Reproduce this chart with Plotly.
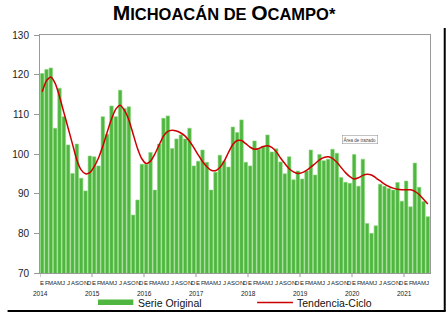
import plotly.graph_objects as go

years = ["2014", "2015", "2016", "2017", "2018", "2019", "2020", "2021"]
month_letters = ["E", "F", "M", "A", "M", "J", "J", "A", "S", "O", "N", "D"]

serie_original = [
    120.3, 121.3, 121.7, 106.5, 116.6, 109.4, 102.3, 95.1, 102.5, 93.9, 90.7, 99.5,   # 2014
    99.3, 97.0, 109.4, 105.0, 112.1, 109.4, 116.1, 111.5, 111.9, 84.6, 88.4, 97.4,    # 2015
    97.4, 100.4, 90.9, 102.5, 109.0, 109.6, 101.4, 103.8, 104.8, 103.8, 106.5, 97.0,  # 2016
    98.2, 101.0, 97.9, 90.9, 95.4, 99.7, 98.2, 96.7, 106.8, 105.4, 108.6, 97.9,       # 2017
    97.0, 103.3, 101.2, 101.9, 104.8, 100.5, 101.3, 98.0, 95.0, 99.3, 93.5, 95.7,     # 2018
    93.7, 95.7, 101.0, 94.7, 99.9, 98.3, 98.7, 101.2, 100.2, 94.1, 92.9, 92.6,        # 2019
    99.9, 91.9, 98.7, 82.5, 80.0, 81.9, 92.4, 91.9, 91.3, 90.9, 92.8, 88.1,           # 2020
    93.2, 86.7, 97.7, 91.6, 88.0, 84.2,                                               # 2021
]

tendencia_ciclo = [
    115.7, 118.5, 119.4, 117.8, 114.5, 110.5, 106.5, 102.5, 98.5, 96.0, 95.0, 95.3,
    96.8, 99.0, 102.0, 105.5, 108.8, 111.3, 112.3, 111.0, 108.6, 105.0, 101.4, 98.8,
    97.6, 98.2, 100.0, 102.3, 104.5, 105.7, 106.0, 105.8, 105.3, 104.5, 103.2, 101.6,
    99.8, 98.1, 96.8, 95.9, 95.8, 96.6, 98.2, 100.4, 102.4, 103.4, 103.4, 102.6,
    101.7, 101.2, 101.4, 101.9, 102.1, 101.7, 100.6, 99.0, 97.6, 96.3, 95.5, 95.1,
    95.3, 95.9, 96.7, 97.6, 98.5, 99.1, 99.3, 98.9, 97.9, 96.6, 95.3, 94.3,
    93.7, 94.0, 94.6, 94.9, 94.7, 94.0, 93.2, 92.4, 91.8, 91.4, 91.1, 91.0,
    91.0, 91.0, 90.6, 89.8, 88.6, 87.4,
]

y_ticks = [70, 80, 90, 100, 110, 120, 130]

n = len(serie_original)
idx = list(range(n))
year_pos = [12 * k - 0.5 for k in range(len(years))]

FONT = "Arial, Liberation Sans, sans-serif"

L, R, T, B = 33, 18, 35, 40
W, H = 448, 313
pw, ph = W - L - R, H - T - B


def px(x):
    return (x - L) / pw


def py(y):
    return (H - B - y) / ph


fig = go.Figure()
fig.add_trace(go.Bar(
    x=idx, y=serie_original, width=0.8,
    marker=dict(color="#4fb640", line=dict(color="#8ad67b", width=0.6)),
    name="Serie Original", showlegend=False,
))
fig.add_trace(go.Scatter(
    x=idx, y=tendencia_ciclo, mode="lines",
    line=dict(color="#cc0000", width=1.5, shape="spline", smoothing=0.6),
    name="Tendencia-Ciclo", showlegend=False,
))

annotations = []
# month letters under each bar
for i in idx:
    annotations.append(dict(x=i, y=py(282.5), xref="x", yref="paper", text=month_letters[i % 12],
                            showarrow=False, yanchor="middle", xanchor="center",
                            font=dict(family=FONT, size=6, color="#222")))
# years
for yr, xp in zip(years, year_pos):
    annotations.append(dict(x=xp, y=py(293.5), xref="x", yref="paper", text=yr,
                            showarrow=False, yanchor="middle",
                            font=dict(family=FONT, size=6.5, color="#222")))
# custom legend text
annotations.append(dict(x=px(131), y=py(302.5), xref="paper", yref="paper", text="Serie Original",
                        showarrow=False, xanchor="left", yanchor="middle",
                        font=dict(family=FONT, size=10.5, color="#111")))
annotations.append(dict(x=px(293), y=py(302.5), xref="paper", yref="paper", text="Tendencia-Ciclo",
                        showarrow=False, xanchor="left", yanchor="middle",
                        font=dict(family=FONT, size=10.5, color="#111")))
annotations.append(dict(x=px(358.5), y=py(139.5), xref="paper", yref="paper", text="Área de trazado",
                        showarrow=False, xanchor="center", yanchor="middle",
                        bgcolor="white", bordercolor="#888", borderwidth=0.5, borderpad=1,
                        font=dict(family=FONT, size=4.5, color="#444")))

shapes = []
for xp in year_pos:
    shapes.append(dict(type="line", xref="x", yref="paper", x0=xp, x1=xp, y0=0, y1=py(277),
                       line=dict(color="#999", width=1)))
shapes.append(dict(type="rect", xref="paper", yref="paper", x0=px(92), x1=px(128),
                   y0=py(305), y1=py(299.5), fillcolor="#4fb640", line=dict(width=0)))
shapes.append(dict(type="line", xref="paper", yref="paper", x0=px(254), x1=px(290.5),
                   y0=py(302.5), y1=py(302.5), line=dict(color="#cc0000", width=1.5)))
# outer frame (right and bottom)
shapes.append(dict(type="line", xref="paper", yref="paper", x0=px(445), x1=px(445),
                   y0=py(28), y1=py(311), line=dict(color="black", width=2)))
shapes.append(dict(type="line", xref="paper", yref="paper", x0=px(0), x1=px(446),
                   y0=py(311), y1=py(311), line=dict(color="black", width=2)))

title_text = ("<b>M<span style='font-size:16.5px'>ICHOACÁN DE </span>O"
              "<span style='font-size:16.5px'>CAMPO*</span></b>")

fig.update_layout(
    width=W, height=H,
    margin=dict(l=L, r=R, t=T, b=B),
    paper_bgcolor="white", plot_bgcolor="white",
    title=dict(text=title_text, x=0.5, xref="container", xanchor="center",
               y=1 - 13 / H, yref="container", yanchor="middle",
               font=dict(family=FONT, size=21, color="black")),
    bargap=0.2,
    xaxis=dict(range=[-0.5, n - 0.5], showticklabels=False, ticks="",
               showline=True, linecolor="#999", linewidth=1, mirror=True,
               showgrid=False, zeroline=False),
    yaxis=dict(range=[70, 130], tickmode="array", tickvals=y_ticks, ticks="outside",
               ticklen=5, tickcolor="#999", showline=True, linecolor="#999", linewidth=1,
               mirror=True, showgrid=False, zeroline=False, ticklabelstandoff=3,
               tickfont=dict(family=FONT, size=10, color="#222")),
    annotations=annotations, shapes=shapes,
    showlegend=False,
)

fig.write_html("out.html")
